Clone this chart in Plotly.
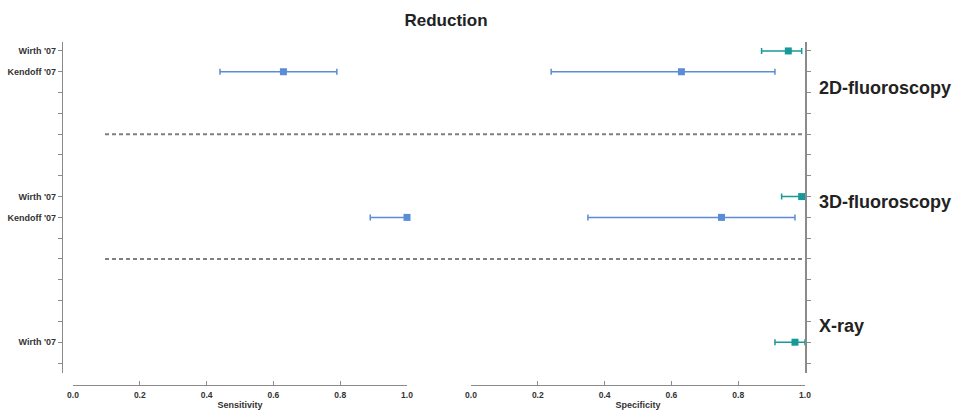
import plotly.graph_objects as go

# ---- data ----
row_labels = ["Wirth '07", "Kendoff '07", "", "", "", "", "", "Wirth '07", "Kendoff '07",
              "", "", "", "", "", "Wirth '07", ""]
row_index = list(range(len(row_labels)))

kendoff_rows = [1, 8]
kendoff_sens = [0.63, 1.00]
kendoff_sens_lo = [0.44, 0.89]
kendoff_sens_hi = [0.79, 1.00]
kendoff_spec = [0.63, 0.75]
kendoff_spec_lo = [0.24, 0.35]
kendoff_spec_hi = [0.91, 0.97]

wirth_rows = [0, 7, 14]
wirth_spec = [0.95, 0.99, 0.97]
wirth_spec_lo = [0.87, 0.93, 0.91]
wirth_spec_hi = [0.99, 1.00, 1.00]

separator_rows = [4, 10]
group_names = ["2D-fluoroscopy", "3D-fluoroscopy", "X-ray"]
group_label_rows = [1.78, 7.26, 13.2]

x_ticks = [0.0, 0.2, 0.4, 0.6, 0.8, 1.0]
x_ticktext = ["0.0", "0.2", "0.4", "0.6", "0.8", "1.0"]

# ---- style ----
W, H = 953, 410
BLUE = "#5a8dd6"
TEAL = "#17999a"
AXIS = "#8a8a8a"
TXT = "#333333"
FONT = "Liberation Sans, Arial, sans-serif"


def px_x(p):
    return p / W


def px_y(p):
    return 1 - p / H


def err(est, lo, hi, color):
    return dict(type="data", symmetric=False,
                array=[h - e for e, h in zip(est, hi)],
                arrayminus=[e - l for e, l in zip(est, lo)],
                thickness=1.5, width=3, color=color)


fig = go.Figure()

fig.add_trace(go.Scatter(
    x=kendoff_sens, y=kendoff_rows, mode="markers", name="Kendoff '07 sensitivity",
    marker=dict(symbol="square", size=7, color=BLUE),
    error_x=err(kendoff_sens, kendoff_sens_lo, kendoff_sens_hi, BLUE),
    xaxis="x", yaxis="y", cliponaxis=False, showlegend=False))

fig.add_trace(go.Scatter(
    x=kendoff_spec, y=kendoff_rows, mode="markers", name="Kendoff '07 specificity",
    marker=dict(symbol="square", size=7, color=BLUE),
    error_x=err(kendoff_spec, kendoff_spec_lo, kendoff_spec_hi, BLUE),
    xaxis="x2", yaxis="y2", cliponaxis=False, showlegend=False))

fig.add_trace(go.Scatter(
    x=wirth_spec, y=wirth_rows, mode="markers", name="Wirth '07 specificity",
    marker=dict(symbol="square", size=7, color=TEAL),
    error_x=err(wirth_spec, wirth_spec_lo, wirth_spec_hi, TEAL),
    xaxis="x2", yaxis="y2", cliponaxis=False, showlegend=False))

# separators between modality groups
for r in separator_rows:
    fig.add_shape(type="line", xref="paper", yref="y",
                  x0=px_x(105), x1=px_x(805), y0=r, y1=r,
                  line=dict(color="#808080", width=2, dash="4px,3px"))

# group labels
for name, r in zip(group_names, group_label_rows):
    fig.add_annotation(text=name, xref="paper", yref="y", x=px_x(817), y=r,
                       xanchor="left", yanchor="middle", showarrow=False,
                       font=dict(family=FONT, size=18, color="#222222", weight="bold"))

y_range = [15.48, -0.43]
xaxis_common = dict(range=[0, 1], tickvals=x_ticks, ticktext=x_ticktext,
                    showgrid=False, zeroline=False, showline=True, linecolor=AXIS,
                    linewidth=1.2, ticks="inside", ticklen=4, tickcolor=AXIS,
                    tickfont=dict(family=FONT, size=8.5, color=TXT, weight="bold"),
                    ticklabelstandoff=2,
                    anchor="free", position=px_y(385), fixedrange=True, automargin=False)

fig.update_layout(
    width=W, height=H,
    margin=dict(l=0, r=0, t=0, b=0, pad=0, autoexpand=False),
    paper_bgcolor="white", plot_bgcolor="white",
    showlegend=False,
    title=dict(text="Reduction", x=px_x(446), y=px_y(20), xanchor="center",
               yanchor="middle", xref="paper", yref="paper", automargin=False,
               font=dict(family=FONT, size=17, color="#222222", weight="bold")),
    xaxis=dict(xaxis_common, domain=[px_x(73), px_x(407)],
               title=dict(text="Sensitivity", standoff=4,
                          font=dict(family=FONT, size=9, color=TXT, weight="bold"))),
    xaxis2=dict(xaxis_common, domain=[px_x(471), px_x(805)],
                title=dict(text="Specificity", standoff=4,
                           font=dict(family=FONT, size=9, color=TXT, weight="bold"))),
    yaxis=dict(domain=[px_y(373), px_y(42)], range=y_range,
               tickvals=row_index, ticktext=row_labels,
               showgrid=False, zeroline=False, showline=True, linecolor=AXIS,
               linewidth=1.2, ticks="outside", ticklen=4, tickcolor=AXIS,
               tickfont=dict(family=FONT, size=9, color=TXT, weight="bold"),
               anchor="free", position=px_x(62), fixedrange=True, automargin=False),
    yaxis2=dict(domain=[px_y(373), px_y(42)], range=y_range, overlaying="y",
                matches="y", tickvals=row_index, showticklabels=False,
                showgrid=False, zeroline=False, showline=True, linecolor=AXIS,
                linewidth=1.5, ticks="outside", ticklen=4, tickcolor=AXIS,
                anchor="x2", side="right", fixedrange=True, automargin=False),
)

fig.write_html("out.html")
